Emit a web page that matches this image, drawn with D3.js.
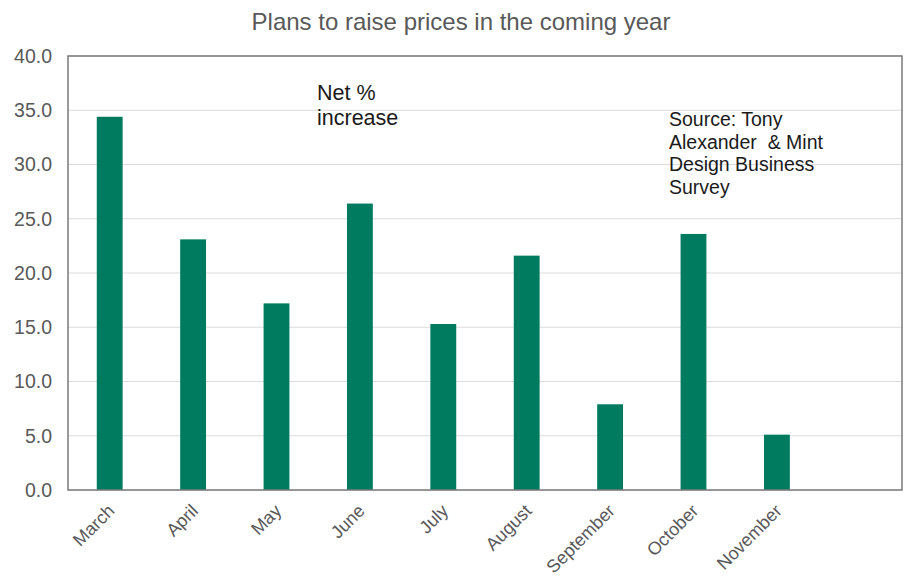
<!DOCTYPE html>
<html>
<head>
<meta charset="utf-8">
<script src="https://cdn.jsdelivr.net/npm/d3@7"></script>
<style>
  body { margin: 0; background: #fff; }
  svg { font-family: "Liberation Sans", Arial, sans-serif; }
</style>
</head>
<body>
<script>
const months = ['March', 'April', 'May', 'June', 'July', 'August', 'September', 'October', 'November', ''];
const netIncrease = [34.4, 23.1, 17.2, 26.4, 15.3, 21.6, 7.9, 23.6, 5.1, null];
const yTicks = [0, 5, 10, 15, 20, 25, 30, 35, 40];
const noteLines = ['Net %', 'increase'];
const sourceLines = ['Source: Tony', 'Alexander  & Mint', 'Design Business', 'Survey'];

const w = 911, h = 579;
const margin = {top: 56, right: 9, bottom: 89, left: 68};

const svg = d3.select('body').append('svg')
  .attr('width', w)
  .attr('height', h);

const x = d3.scaleBand()
  .domain(months.map((m, i) => i))
  .range([margin.left, w - margin.right])
  .paddingInner(0.69)
  .paddingOuter(0.345);

const y = d3.scaleLinear()
  .domain([0, 40])
  .range([h - margin.bottom, margin.top]);

// gridlines
svg.append('g')
  .selectAll('line')
  .data(yTicks)
  .enter().append('line')
    .attr('x1', margin.left)
    .attr('x2', w - margin.right)
    .attr('y1', d => y(d))
    .attr('y2', d => y(d))
    .attr('stroke', '#dcdcdc')
    .attr('stroke-width', 1);

// y labels
svg.append('g')
  .selectAll('text')
  .data(yTicks)
  .enter().append('text')
    .attr('x', margin.left - 16)
    .attr('y', d => y(d))
    .attr('dy', '0.35em')
    .attr('text-anchor', 'end')
    .attr('font-size', 19.5)
    .attr('fill', '#595959')
    .text(d => d3.format('.1f')(d));

// bars
svg.append('g')
  .selectAll('rect')
  .data(netIncrease.map((v, i) => ({v, i})).filter(d => d.v != null))
  .enter().append('rect')
    .attr('x', d => x(d.i))
    .attr('width', x.bandwidth())
    .attr('y', d => y(d.v))
    .attr('height', d => y(0) - y(d.v))
    .attr('fill', '#007b5f');

// plot border
svg.append('rect')
  .attr('x', margin.left)
  .attr('y', margin.top)
  .attr('width', w - margin.left - margin.right)
  .attr('height', h - margin.top - margin.bottom)
  .attr('fill', 'none')
  .attr('stroke', '#7a7a7a')
  .attr('stroke-width', 1.5);

// x labels
svg.append('g')
  .selectAll('text')
  .data(months)
  .enter().append('text')
    .attr('transform', (d, i) => `translate(${x(i) + x.bandwidth() / 2 + 6},${y(0) + 22}) rotate(-45)`)
    .attr('text-anchor', 'end')
    .attr('font-size', 18)
    .attr('fill', '#595959')
    .text(d => d);

// title
svg.append('text')
  .attr('x', 461)
  .attr('y', 30)
  .attr('text-anchor', 'middle')
  .attr('font-size', 24)
  .attr('fill', '#595959')
  .text('Plans to raise prices in the coming year');

// annotations
svg.append('g')
  .selectAll('text')
  .data(noteLines)
  .enter().append('text')
    .attr('x', 317)
    .attr('y', (d, i) => 100 + i * 25)
    .attr('font-size', 21.5)
    .attr('fill', '#1a1a1a')
    .text(d => d);

svg.append('g')
  .selectAll('text')
  .data(sourceLines)
  .enter().append('text')
    .attr('x', 669)
    .attr('y', (d, i) => 126 + i * 22.7)
    .attr('font-size', 19.5)
    .attr('fill', '#1a1a1a')
    .style('white-space', 'pre')
    .text(d => d);
</script>
</body>
</html>
